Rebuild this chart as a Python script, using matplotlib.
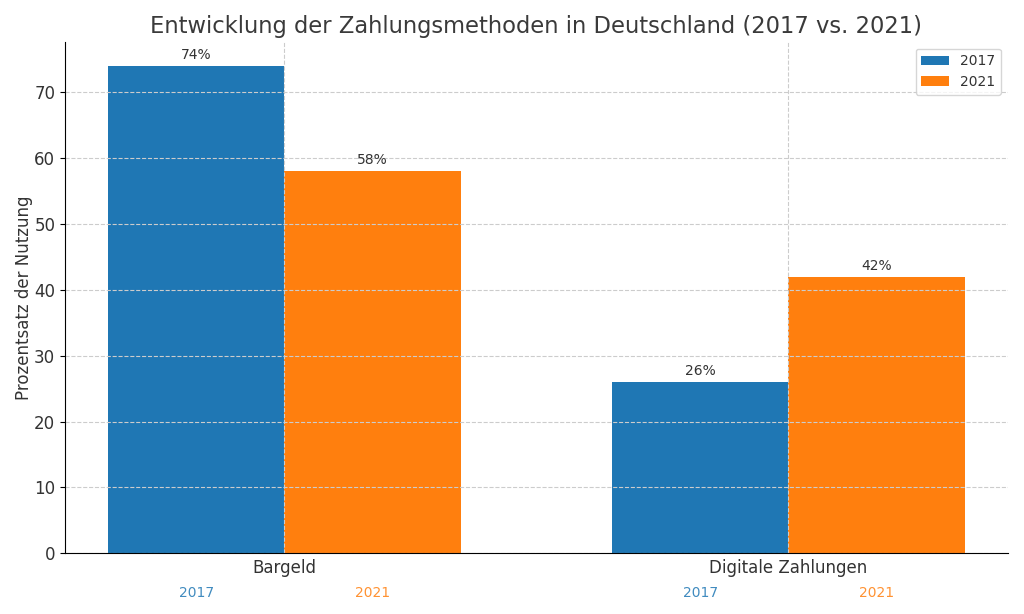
import matplotlib
matplotlib.use("Agg")
import matplotlib.pyplot as plt
import numpy as np

categories = ["Bargeld", "Digitale Zahlungen"]
years = ["2017", "2021"]
values_2017 = [74, 26]
values_2021 = [58, 42]

colors = ["#1f77b4", "#ff7f0e"]
text_color = "#333333"

fig, ax = plt.subplots(figsize=(10.24, 6.14), dpi=100)
x = np.arange(len(categories))
width = 0.35

b1 = ax.bar(x - width / 2, values_2017, width, label=years[0], color=colors[0])
b2 = ax.bar(x + width / 2, values_2021, width, label=years[1], color=colors[1])

for bars, vals in ((b1, values_2017), (b2, values_2021)):
    for rect, v in zip(bars, vals):
        ax.annotate(f"{v}%", xy=(rect.get_x() + rect.get_width() / 2, v),
                    xytext=(0, 3), textcoords="offset points",
                    ha="center", va="bottom", fontsize=10, color=text_color)

for i in range(len(categories)):
    ax.text(x[i] - width / 2, -6, years[0], ha="center", va="center",
            fontsize=10, color=colors[0], alpha=0.85)
    ax.text(x[i] + width / 2, -6, years[1], ha="center", va="center",
            fontsize=10, color=colors[1], alpha=0.85)

ax.set_xticks(x)
ax.set_xticklabels(categories, fontsize=12, color=text_color)
ax.tick_params(axis="x", length=0, pad=4)
ax.tick_params(axis="y", labelsize=12, labelcolor=text_color)
ax.set_ylabel("Prozentsatz der Nutzung", fontsize=12, color=text_color, labelpad=1)
ax.set_title("Entwicklung der Zahlungsmethoden in Deutschland (2017 vs. 2021)",
             fontsize=16.3, color="#3a3a3a")
ax.grid(True, linestyle="--", color="#cccccc", linewidth=0.8)
ax.spines["top"].set_visible(False)
ax.spines["right"].set_visible(False)
ax.legend(fontsize=10, loc="upper right", labelcolor=text_color)

fig.subplots_adjust(left=0.0635, right=0.984, top=0.932, bottom=0.099)
fig.savefig("out.png", dpi=100)
